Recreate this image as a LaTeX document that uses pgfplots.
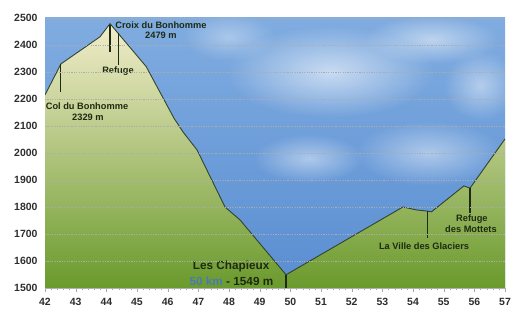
\documentclass[border=0pt]{standalone}
\usepackage{pgfplots}
\pgfplotsset{compat=1.18}
\usepackage{pgfplotstable}
\usepackage{fontspec}
\setmainfont{Liberation Sans}
\usetikzlibrary{fadings}
\tikzfading[name=cloudfade, inner color=transparent!0, outer color=transparent!100]
\definecolor{skytop}{HTML}{80ACE0}
\definecolor{skybot}{HTML}{5A8ED2}
\definecolor{landtop}{HTML}{F2EDCB}
\definecolor{landmid}{HTML}{CDD294}
\definecolor{landbot}{HTML}{6A9A2C}
\definecolor{txt}{HTML}{1E2A12}
\definecolor{ticktxt}{HTML}{2E2E2E}
\definecolor{kmblue}{HTML}{4A7AB4}
\definecolor{linec}{HTML}{34432C}

\pgfplotstableread{
km elev
42 2215
42.52 2330
43.79 2430
44.12 2479
45.3 2320
46.2 2130
46.5 2078
46.96 2011
47.87 1800
48.36 1752
49.86 1549
53.67 1800
54.12 1789
54.45 1785
54.6 1782
55.66 1878
55.86 1870
57 2052
}\profile

\begin{document}
\begin{tikzpicture}
\useasboundingbox (0,0) rectangle (520bp,322bp);
\begin{axis}[
  at={(45bp,34bp)}, anchor=south west,
  scale only axis, width=460bp, height=270bp,
  xmin=42, xmax=57, ymin=1500, ymax=2500,
  xtick={42,...,57}, ytick={1500,1600,...,2500},
  minor x tick num=4,
  axis x line*=bottom, axis y line*=left,
  x axis line style={draw=gray!60, -},
  y axis line style={draw=none},
  ytick style={draw=none},
  xtick style={draw=gray!70},
  tick align=outside,
  major tick length=4bp, minor tick length=2.5bp,
  ymajorgrids, grid style={gray!65, dash pattern=on 1.2bp off 1.2bp, line width=0.5bp},
  axis on top,
  axis background/.style={top color=skytop, bottom color=skybot},
  ticklabel style={font=\bfseries\fontsize{10.5}{12}\selectfont, text=ticktxt},
  /pgf/number format/assume math mode=true,
  /pgf/number format/1000 sep={},
  xticklabel style={yshift=-3bp},
]
% clouds (decoration)
\fill[white, opacity=0.6, path fading=cloudfade] (axis cs:51.3,2300) ellipse [x radius=3.4, y radius=170];
\fill[white, opacity=0.5, path fading=cloudfade] (axis cs:54.6,2420) ellipse [x radius=2.2, y radius=90];
\fill[white, opacity=0.45, path fading=cloudfade] (axis cs:54.5,2000) ellipse [x radius=2.4, y radius=120];
\fill[white, opacity=0.45, path fading=cloudfade] (axis cs:50.6,1980) ellipse [x radius=1.8, y radius=90];
\fill[white, opacity=0.45, path fading=cloudfade] (axis cs:56.2,2250) ellipse [x radius=1.2, y radius=130];
\fill[white, opacity=0.35, path fading=cloudfade] (axis cs:48.0,2430) ellipse [x radius=1.5, y radius=90];

% terrain
\addplot[draw=none, top color=landtop, middle color=landmid, bottom color=landbot]
  table {\profile} -- (axis cs:57,1500) -- (axis cs:42,1500) -- cycle;
\addplot[draw=linec, line width=0.9bp] table {\profile};

% markers
\addplot[txt, line width=1.1bp] coordinates {(44.12,2475) (44.12,2375)};
\addplot[txt, line width=1.1bp] coordinates {(44.41,2443) (44.41,2326)};
\addplot[txt, line width=1.1bp] coordinates {(42.52,2330) (42.52,2226)};
\addplot[txt, line width=1.1bp] coordinates {(49.86,1549) (49.86,1500)};
\addplot[txt, line width=1.1bp] coordinates {(54.46,1786) (54.46,1685)};
\addplot[txt, line width=1.1bp] coordinates {(55.86,1870) (55.86,1778)};

% labels
\tikzset{ann/.style={font=\bfseries\fontsize{9.3}{11}\selectfont, text=txt, inner sep=0pt}}
\node[ann] at (axis cs:45.78,2474) {Croix du Bonhomme};
\node[ann] at (axis cs:45.78,2437) {2479 m};
\node[ann] at (axis cs:44.38,2304) {Refuge};
\node[ann] at (axis cs:43.37,2174) {Col du Bonhomme};
\node[ann] at (axis cs:43.40,2133) {2329 m};
\node[ann] at (axis cs:54.36,1656) {La Ville des Glaciers};
\node[ann] at (axis cs:55.92,1756) {Refuge};
\node[ann] at (axis cs:55.89,1719) {des Mottets};
\node[font=\bfseries\fontsize{11.8}{13}\selectfont, text=txt, inner sep=0pt] at (axis cs:48.07,1578) {Les Chapieux};
\node[font=\bfseries\fontsize{11.8}{13}\selectfont, text=txt, inner sep=0pt] at (axis cs:48.08,1526) {\textcolor{kmblue}{50 km} - 1549 m};
\end{axis}
\end{tikzpicture}
\end{document}
